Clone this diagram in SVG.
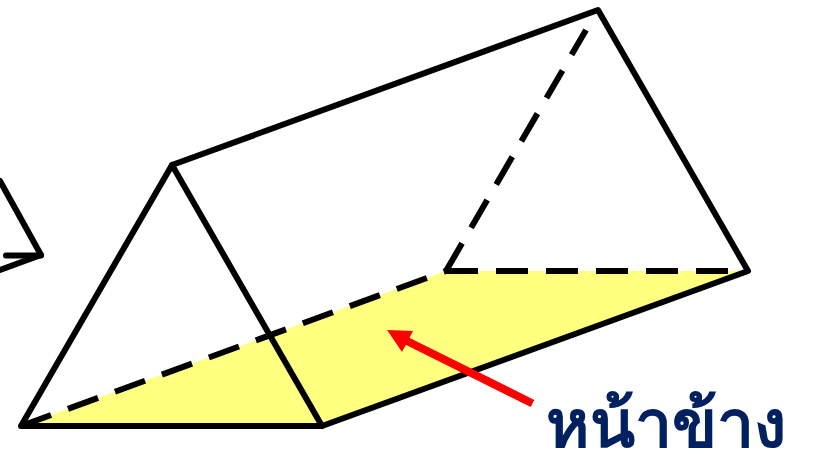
<svg xmlns="http://www.w3.org/2000/svg" width="813" height="454" viewBox="0 0 813 454">
<style>
.s{fill:none;stroke:#000;stroke-width:6;stroke-linecap:round;stroke-linejoin:round}
.d{fill:none;stroke:#000;stroke-width:6;stroke-dasharray:32 18}
.t{font-family:"Noto Sans","DejaVu Sans","Liberation Sans",sans-serif;font-size:66px;font-weight:700;fill:#002060}
</style>
<rect width="813" height="454" fill="#fff"/>
<g id="base-face"><polygon points="21,426 446,271 748,271 322,426" fill="#ffff80"/></g>
<g id="left-fragment"><path class="s" d="M0,181 L41,255 L0,270"/><path class="s" stroke-linecap="butt" d="M6,255.500 H41"/></g>
<g id="prism">
<path class="s" d="M21,426 L172,165 L598,10 L748,271 L322,426 Z"/>
<path class="s" d="M172,165 L322,426"/>
</g>
<g id="connectors">
<path class="d" d="M21,426 L446,271"/>
<path class="d" d="M446,271 L748,271"/>
<path class="d" d="M446,271 L586,30"/>
<path fill="none" stroke="#ff0000" stroke-width="8" d="M532.500,403.500 L405,340"/>
<polygon points="387,330 413,331 402,352" fill="#ff0000"/>
</g>
<g id="label"><text class="t" x="546" y="447">หน้าข้าง</text></g>
</svg>
